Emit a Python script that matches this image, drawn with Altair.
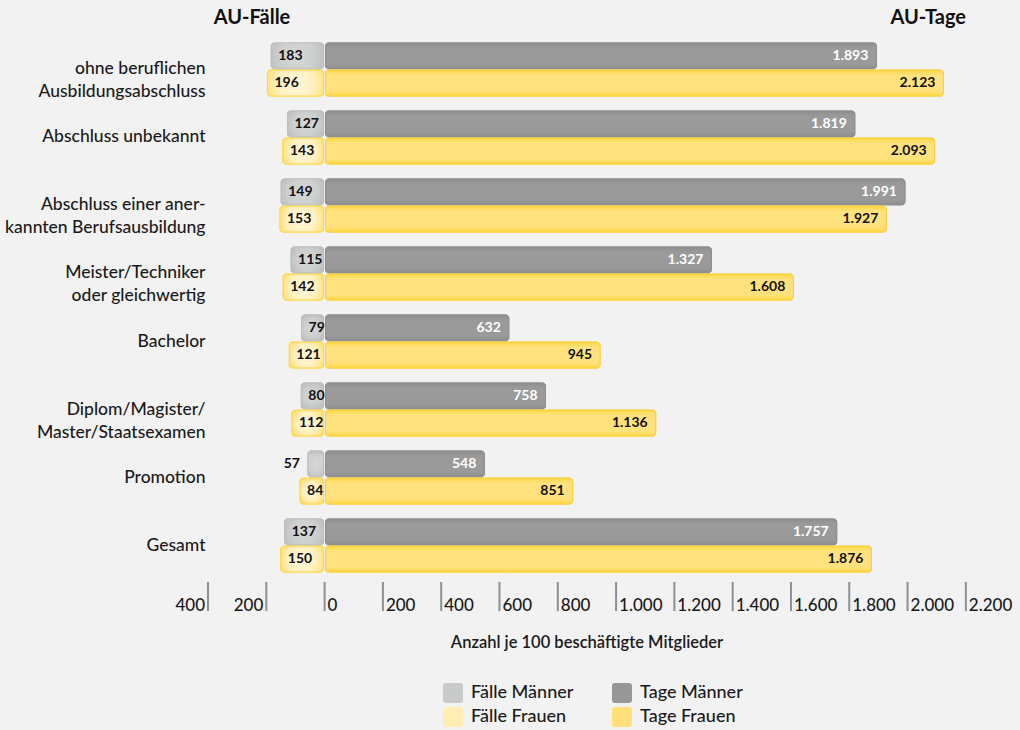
import altair as alt
import pandas as pd

categories = [
    "ohne beruflichen|Ausbildungsabschluss",
    "Abschluss unbekannt",
    "Abschluss einer aner-|kannten Berufsausbildung",
    "Meister/Techniker|oder gleichwertig",
    "Bachelor",
    "Diplom/Magister/|Master/Staatsexamen",
    "Promotion",
    "Gesamt",
]
faelle_maenner = [183, 127, 149, 115, 79, 80, 57, 137]
faelle_frauen = [196, 143, 153, 142, 121, 112, 84, 150]
tage_maenner = [1893, 1819, 1991, 1327, 632, 758, 548, 1757]
tage_frauen = [2123, 2093, 1927, 1608, 945, 1136, 851, 1876]

ticks_left = [-400, -200]
ticks_right = [0, 200, 400, 600, 800, 1000, 1200, 1400, 1600, 1800, 2000, 2200]

series = ["Fälle Männer", "Tage Männer", "Fälle Frauen", "Tage Frauen"]
fill_colors = ["#c9caca", "#979797", "#ffeeb4", "#ffe07a"]
stroke_colors = ["#bdbebe", "#8f8f8f", "#fdd64c", "#fccf36"]

FONT = "Lato, Roboto, sans-serif"


def radial(c0, c1, c2):
    return alt.Gradient(gradient="radial", x1=0.5, y1=0.5, x2=0.5, y2=0.5, r1=0, r2=0.62,
                        stops=[alt.GradientStop(offset=0, color=c0),
                               alt.GradientStop(offset=0.55, color=c1),
                               alt.GradientStop(offset=1, color=c2)])


def vlinear(edge, mid):
    return alt.Gradient(gradient="linear", x1=0, y1=0, x2=0, y2=1,
                        stops=[alt.GradientStop(offset=0, color=edge),
                               alt.GradientStop(offset=0.2, color=mid),
                               alt.GradientStop(offset=0.8, color=mid),
                               alt.GradientStop(offset=1, color=edge)])


gradients = {
    "Fälle Männer": radial("#d6d7d7", "#cdcece", "#b9baba"),
    "Tage Männer": vlinear("#8e8e8e", "#9a9a9a"),
    "Fälle Frauen": radial("#fff7dc", "#fff0be", "#ffda58"),
    "Tage Frauen": vlinear("#ffd848", "#ffe27e"),
}

rows = []
for i, c in enumerate(categories):
    for g, fv, tv in (("Männer", faelle_maenner[i], tage_maenner[i]),
                      ("Frauen", faelle_frauen[i], tage_frauen[i])):
        rows.append(dict(cat=c, gender=g, measure="Fälle", series="Fälle " + g,
                         value=fv, xs=-fv, xe=0))
        rows.append(dict(cat=c, gender=g, measure="Tage", series="Tage " + g,
                         value=tv, xs=0, xe=tv))
df = pd.DataFrame(rows)

W, H = 787, 543
xscale = alt.Scale(domain=[-400, 2300], nice=False, zero=False)
yenc = alt.Y("cat:N", sort=categories,
             scale=alt.Scale(paddingInner=0.22, paddingOuter=0.1025),
             axis=alt.Axis(title=None, ticks=False, domain=False,
                           labelExpr="split(datum.label, '|')", labelLimit=400,
                           labelFont=FONT, labelFontSize=17.5, labelFontWeight=500,
                           labelColor="#1a1a1a",
                           labelPadding=3, labelLineHeight=23))
yoff = alt.YOffset("gender:N", sort=["Männer", "Frauen"], scale=alt.Scale(paddingInner=0.05))

base = alt.Chart(df).transform_calculate(
    lbl="replace(format(datum.value, ','), ',', '.')"
)

legend = alt.Legend(title=None, orient="none", legendX=235, legendY=647,
                    columns=2, direction="horizontal",
                    symbolType="M -1 -0.7 Q -1 -1 -0.7 -1 L 0.7 -1 Q 1 -1 1 -0.7 L 1 0.7 Q 1 1 0.7 1 L -0.7 1 Q -1 1 -1 0.7 Z",
                    symbolSize=400, symbolStrokeWidth=0,
                    labelFont=FONT, labelFontSize=18, labelFontWeight=500, labelColor="#1a1a1a",
                    labelOffset=8, rowPadding=4, columnPadding=38)

bar_layers = []
for s in series:
    meas = s.split(" ")[0]
    opts = dict(cornerRadius=3, strokeWidth=1)
    if meas == "Fälle":
        opts["x2Offset"] = -1
    else:
        opts["xOffset"] = 1
    # solid base layer carries the legend
    bar_layers.append(
        base.transform_filter(alt.datum.series == s).mark_bar(**opts).encode(
            x=alt.X("xs:Q", scale=xscale, axis=None),
            x2="xe:Q", y=yenc, yOffset=yoff,
            color=alt.Color("series:N", scale=alt.Scale(domain=series, range=fill_colors),
                            legend=legend),
            stroke=alt.Stroke("series:N", scale=alt.Scale(domain=series, range=stroke_colors),
                              legend=None),
        )
    )
    # gradient overlay
    bar_layers.append(
        base.transform_filter(alt.datum.series == s).mark_bar(
            fill=gradients[s], stroke=stroke_colors[series.index(s)], **opts
        ).encode(x=alt.X("xs:Q", scale=xscale, axis=None), x2="xe:Q", y=yenc, yOffset=yoff)
    )

faelle_in = base.transform_filter(
    (alt.datum.measure == "Fälle") & (alt.datum.value >= 70)
).mark_text(align="left", dx=7, font=FONT, fontWeight="bold", fontSize=14, color="#111111").encode(
    x=alt.X("xs:Q", scale=xscale), y=yenc, yOffset=yoff, text="lbl:N")
faelle_out = base.transform_filter(
    (alt.datum.measure == "Fälle") & (alt.datum.value < 70)
).mark_text(align="right", dx=-8, font=FONT, fontWeight="bold", fontSize=14, color="#111111").encode(
    x=alt.X("xs:Q", scale=xscale), y=yenc, yOffset=yoff, text="lbl:N")
tage_lbl = base.transform_filter(alt.datum.measure == "Tage").mark_text(
    align="right", dx=-8, font=FONT, fontWeight="bold", fontSize=14
).encode(
    x=alt.X("xe:Q", scale=xscale), y=yenc, yOffset=yoff, text="lbl:N",
    color=alt.condition(alt.datum.gender == "Männer", alt.value("#ffffff"), alt.value("#111111")),
)

tick_df = pd.DataFrame({"v": ticks_left + ticks_right,
                        "side": ["L"] * len(ticks_left) + ["R"] * len(ticks_right)})
tick_base = alt.Chart(tick_df).transform_calculate(
    t="replace(format(abs(datum.v), ','), ',', '.')")
tick_rules = tick_base.mark_rule(color="#8a9096", strokeWidth=2).encode(
    x=alt.X("v:Q", scale=xscale), y=alt.value(H + 3), y2=alt.value(H + 32))
tick_lbl_r = tick_base.transform_filter(alt.datum.side == "R").mark_text(
    align="left", baseline="alphabetic", dx=3, font=FONT, fontSize=17, fontWeight=500, color="#1a1a1a"
).encode(x=alt.X("v:Q", scale=xscale), y=alt.value(H + 32), text="t:N")
tick_lbl_l = tick_base.transform_filter(alt.datum.side == "L").mark_text(
    align="right", baseline="alphabetic", dx=-3, font=FONT, fontSize=17, fontWeight=500, color="#1a1a1a"
).encode(x=alt.X("v:Q", scale=xscale), y=alt.value(H + 32), text="t:N")

axis_title = alt.Chart(pd.DataFrame({"t": ["Anzahl je 100 beschäftigte Mitglieder"]})).mark_text(
    font=FONT, fontSize=16.5, fontWeight=600, color="#1a1a1a", baseline="middle", align="center"
).encode(x=alt.value(379), y=alt.value(H + 64), text="t:N")

head_df = pd.DataFrame({"t": ["AU-Fälle", "AU-Tage"]})
head_l = alt.Chart(head_df).transform_filter(alt.datum.t == "AU-Fälle").mark_text(
    font=FONT, fontSize=20, fontWeight="bold", color="#111111", align="center", baseline="middle"
).encode(x=alt.value(44), y=alt.value(-18), text="t:N")
head_r = alt.Chart(head_df).transform_filter(alt.datum.t == "AU-Tage").mark_text(
    font=FONT, fontSize=20, fontWeight="bold", color="#111111", align="right", baseline="middle"
).encode(x=alt.value(758), y=alt.value(-18), text="t:N")

chart = alt.layer(
    *bar_layers, faelle_in, faelle_out, tage_lbl,
    tick_rules, tick_lbl_r, tick_lbl_l, axis_title, head_l, head_r,
).properties(
    width=W, height=H,
    background="#f2f2f2",
    padding={"left": 208, "top": 36, "right": 25, "bottom": 151},
    autosize=alt.AutoSizeParams(type="none"),
).configure_view(stroke=None)

chart.save("out.html", embed_options={"renderer": "svg", "actions": False})
